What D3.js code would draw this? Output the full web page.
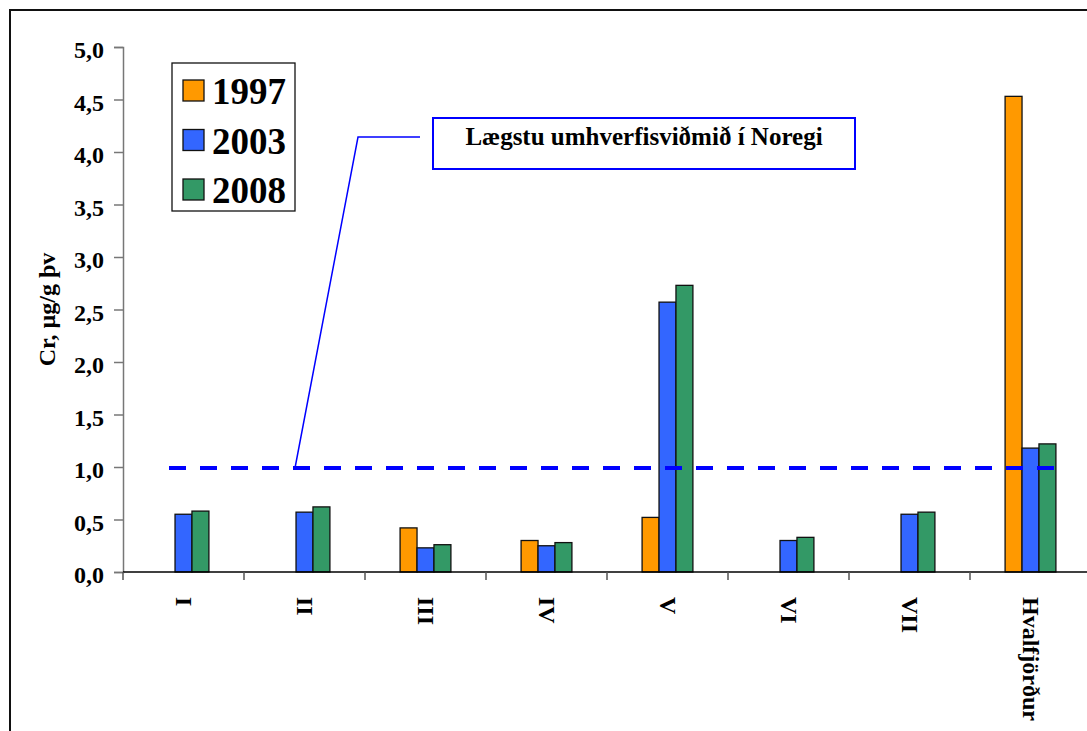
<!DOCTYPE html>
<html>
<head>
<meta charset="utf-8">
<script src="https://cdn.jsdelivr.net/npm/d3@7"></script>
<style>
  html, body { margin: 0; padding: 0; background: #fff; }
  svg { display: block; }
  text { font-family: "Liberation Serif", "Times New Roman", serif; font-weight: bold; fill: #000; }
</style>
</head>
<body>
<svg id="chart" width="1087" height="731"></svg>
<script>
// Sampling stations and chromium concentrations (µg/g dry weight)
const categories = ["I", "II", "III", "IV", "V", "VI", "VII", "Hvalfjörður"];
const seriesNames = ["1997", "2003", "2008"];
const values1997 = [null, null, 0.42, 0.30, 0.52, null, null, 4.53];
const values2003 = [0.55, 0.57, 0.23, 0.25, 2.57, 0.30, 0.55, 1.18];
const values2008 = [0.58, 0.62, 0.26, 0.28, 2.73, 0.33, 0.57, 1.22];
const seriesColors = ["#FF9900", "#3366FF", "#339966"];
const yTicks = [0, 0.5, 1, 1.5, 2, 2.5, 3, 3.5, 4, 4.5, 5];
const referenceLevel = 1.0;
const referenceLabel = "Lægstu umhverfisviðmið í Noregi";
const yTitle = "Cr, µg/g þv";

const seriesValues = [values1997, values2003, values2008];
const serif = "'Liberation Serif', 'Times New Roman', serif";

const svg = d3.select("#chart");

// frame around the chart area
svg.append("rect")
  .attr("x", 10).attr("y", 10)
  .attr("width", 1200).attr("height", 800)
  .attr("fill", "none").attr("stroke", "#111").attr("stroke-width", 2);

const plotLeft = 123, plotRight = 1091, plotTop = 47, plotBottom = 572;

const x = d3.scaleBand().domain(categories).range([plotLeft, plotRight]).padding(0);
const bw = x.bandwidth();
const groupW = bw * 0.42;
const xs = d3.scaleBand().domain(seriesNames)
  .range([(bw - groupW) / 2, (bw + groupW) / 2]).padding(0);
const y = d3.scaleLinear().domain([0, 5]).range([plotBottom, plotTop]);

// y axis
const yAxis = svg.append("g")
  .attr("transform", `translate(${plotLeft},0)`)
  .attr("font-family", serif)
  .call(d3.axisLeft(y).tickValues(yTicks).tickSize(9).tickPadding(10)
    .tickFormat(d => d3.format(".1f")(d).replace(".", ",")));
yAxis.attr("font-family", serif);
yAxis.select(".domain").attr("stroke", "#777").attr("stroke-width", 1.5);
yAxis.selectAll(".tick line").attr("stroke", "#777").attr("stroke-width", 1.5);
yAxis.selectAll(".tick text")
  .attr("font-size", 24).attr("dy", "0.45em")
  .attr("font-family", serif).attr("font-weight", "bold").attr("fill", "#000");

// y axis title
svg.append("text")
  .attr("transform", `translate(55,${(plotTop + plotBottom) / 2}) rotate(-90)`)
  .attr("text-anchor", "middle")
  .attr("font-family", serif)
  .attr("font-size", 24)
  .text(yTitle);

// bars
const rows = categories.map((c, i) => ({ cat: c, vals: seriesValues.map((s, k) => ({ name: seriesNames[k], v: s[i], k })) }));
const groups = svg.append("g").selectAll("g").data(rows).join("g")
  .attr("transform", d => `translate(${x(d.cat)},0)`);
groups.selectAll("rect").data(d => d.vals.filter(o => o.v != null)).join("rect")
  .attr("x", d => xs(d.name))
  .attr("y", d => y(d.v))
  .attr("width", xs.bandwidth())
  .attr("height", d => y(0) - y(d.v))
  .attr("fill", d => seriesColors[d.k])
  .attr("stroke", "#111").attr("stroke-width", 1.3);

// x axis with boundary ticks
svg.append("line")
  .attr("x1", plotLeft).attr("x2", 1087)
  .attr("y1", y(0)).attr("y2", y(0))
  .attr("stroke", "#000").attr("stroke-width", 1.5);
svg.append("g").selectAll("line").data(categories).join("line")
  .attr("x1", d => x(d)).attr("x2", d => x(d))
  .attr("y1", y(0)).attr("y2", y(0) + 8)
  .attr("stroke", "#555").attr("stroke-width", 1.5);

// category labels, rotated to read top to bottom
svg.append("g").selectAll("text").data(categories).join("text")
  .attr("transform", d => `translate(${x(d) + bw / 2},597) rotate(90)`)
  .attr("dy", "0.33em")
  .attr("text-anchor", "start")
  .attr("font-family", serif)
  .attr("font-size", 24)
  .text(d => d);

// reference level
svg.append("line")
  .attr("x1", 169).attr("x2", 1066)
  .attr("y1", y(referenceLevel) + 1).attr("y2", y(referenceLevel) + 1)
  .attr("stroke", "#0000FF").attr("stroke-width", 4)
  .attr("stroke-dasharray", "17,14");

// callout with leader line
svg.append("polyline")
  .attr("points", `295,${y(referenceLevel) + 1} 358,137 420,137`)
  .attr("fill", "none").attr("stroke", "#0000FF").attr("stroke-width", 1.5);
svg.append("rect")
  .attr("x", 433).attr("y", 118).attr("width", 422).attr("height", 51)
  .attr("fill", "#fff").attr("stroke", "#0000FF").attr("stroke-width", 2);
svg.append("text")
  .attr("x", 644).attr("y", 145)
  .attr("text-anchor", "middle")
  .attr("font-family", serif)
  .attr("font-size", 25)
  .text(referenceLabel);

// legend
const legend = svg.append("g");
legend.append("rect")
  .attr("x", 172).attr("y", 63).attr("width", 123).attr("height", 148)
  .attr("fill", "#fff").attr("stroke", "#111").attr("stroke-width", 1.3);
const items = legend.selectAll("g").data(seriesNames).join("g")
  .attr("transform", (d, i) => `translate(183,${80 + i * 49.5})`);
items.append("rect")
  .attr("width", 21).attr("height", 21)
  .attr("fill", (d, i) => seriesColors[i])
  .attr("stroke", "#111").attr("stroke-width", 1.3);
items.append("text")
  .attr("x", 29).attr("y", 24)
  .attr("font-family", serif)
  .attr("font-size", 37)
  .text(d => d);
</script>
</body>
</html>
